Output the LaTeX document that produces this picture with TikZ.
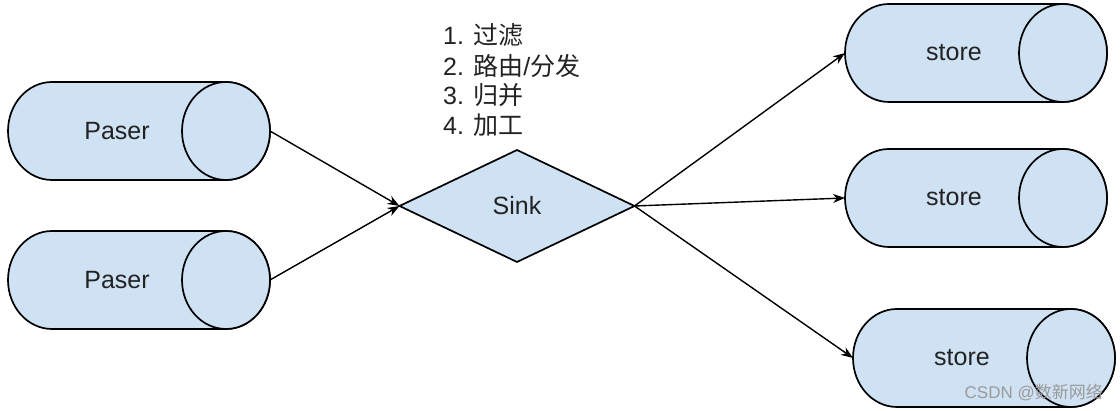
\documentclass[tikz,border=0pt]{standalone}
\usepackage{fontspec}
\setmainfont{Liberation Sans}
\newfontfamily\cjk{Noto Sans CJK SC}
\usetikzlibrary{arrows.meta}
\definecolor{fillblue}{HTML}{CFE2F3}
\definecolor{txt}{HTML}{222222}
\definecolor{wm}{HTML}{9A9A9A}
\tikzset{
  shapeline/.style={draw=black, line width=1.7pt, fill=fillblue, line join=round},
  lbl/.style={font=\fontsize{25}{30}\selectfont, text=txt, inner sep=0pt},
  anchorbox/.style={inner sep=0pt, outer sep=0pt, draw=none},
  conn/.style={line width=1.4pt, -{Stealth[length=12pt,width=9pt]}},
  listtext/.style={font=\fontsize{25}{30}\selectfont, text=txt, anchor=west, inner sep=0pt},
}
% #1 name, #2 left x, #3 right x, #4 centre y, #5 text
\newcommand\mycyl[5]{%
  \draw[shapeline] ({#2+44},{#4+49}) arc[start angle=90,end angle=270,x radius=44pt,y radius=49pt]
     -- ({#3-44},{#4-49}) arc[start angle=-90,end angle=90,x radius=44pt,y radius=49pt] -- cycle;
  \draw[shapeline] ({#3-44},#4) ellipse[x radius=44pt,y radius=49pt];
  \node[anchorbox, minimum width={(#3-#2)*1pt}, minimum height=98pt] (#1) at ({(#2+#3)/2},#4) {};
  \node[lbl] (#1t) at ({(#2+#3-44)/2},#4) {#5};
}
\begin{document}
\begin{tikzpicture}[x=1pt,y=1pt]
  \useasboundingbox (0,0) rectangle (1120,411);
  \fill[white] (0,0) rectangle (1120,411);

  \mycyl{P1}{8}{270}{280}{Paser}
  \mycyl{P2}{8}{270}{131}{Paser}
  \mycyl{S1}{845}{1107}{358}{store}
  \mycyl{S2}{845}{1107}{213}{store}
  \mycyl{S3}{853}{1115}{53}{store}

  \node[anchorbox, minimum width=235pt, minimum height=112pt] (K) at (517,205) {};
  \draw[shapeline] (K.west) -- (K.north) -- (K.east) -- (K.south) -- cycle;
  \node[lbl] (Kt) at (517,205) {Sink};

  \node[listtext] (L1) at (443,376) {1. {\cjk 过滤}};
  \node[listtext] (L2) at (443,345) {2. {\cjk 路由}/{\cjk 分发}};
  \node[listtext] (L3) at (443,316) {3. {\cjk 归并}};
  \node[listtext] (L4) at (443,286) {4. {\cjk 加工}};

  \draw[conn] (P1.east) -- (K.west);
  \draw[conn] (P2.east) -- (K.west);
  \draw[conn] (K.east) -- (S1.west);
  \draw[conn] (K.east) -- (S2.west);
  \draw[conn] (K.east) -- (S3.west);

  \node[font=\fontsize{17}{20}\selectfont, text=wm, anchor=east, inner sep=0pt] (wm) at (1103,19) {CSDN @{\cjk 数新网络}};
\end{tikzpicture}
\end{document}
